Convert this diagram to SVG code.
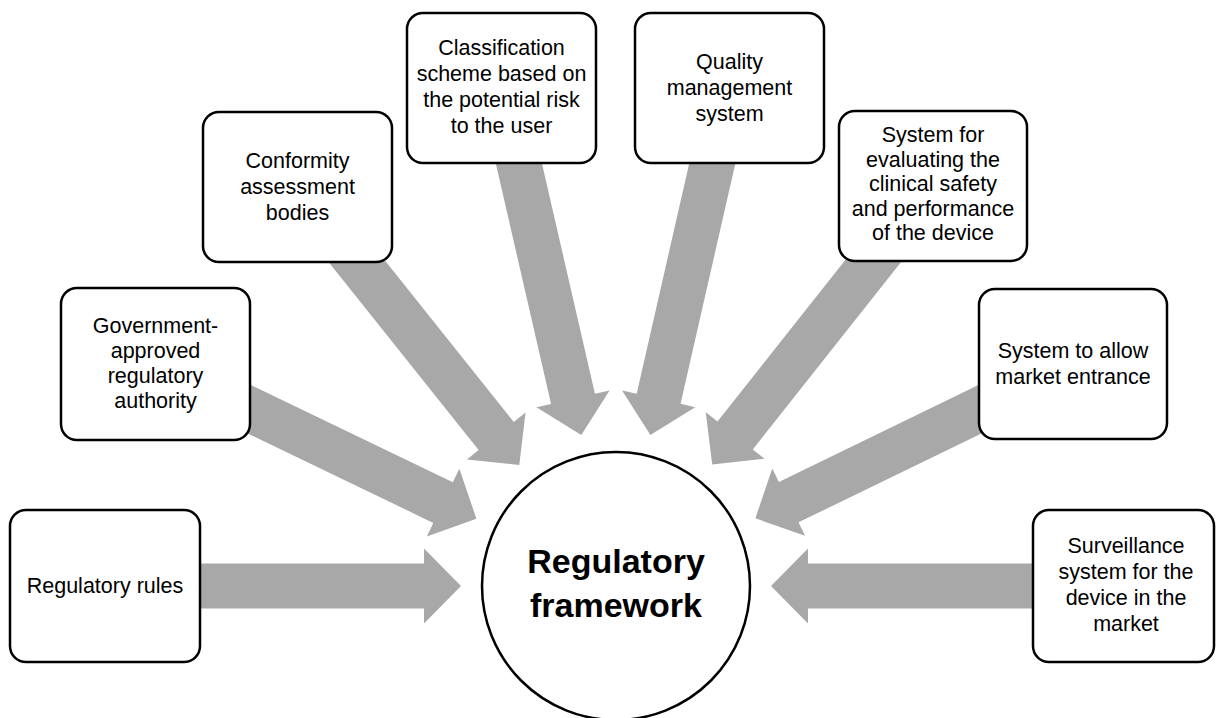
<svg xmlns="http://www.w3.org/2000/svg" xmlns:xlink="http://www.w3.org/1999/xlink" width="1216" height="718" viewBox="0 0 1216 718">
<style>
.box{fill:#fff;stroke:#000;stroke-width:2.5}
.lbl{font-family:"Liberation Sans",Arial,sans-serif;font-size:21.5px;fill:#000;text-anchor:middle}
.hub{font-family:"Liberation Sans",Arial,sans-serif;font-size:34px;font-weight:bold;fill:#000;text-anchor:middle}
.arr{fill:#A8A8A8}
</style>
<defs>
<path id="arrow" class="arr" d="M-400,-22.5 L-37,-22.5 L-37,-37.5 L0,0 L-37,37.5 L-37,22.5 L-400,22.5 Z"/>
</defs>
<rect width="1216" height="718" fill="#fff"/>
<g id="connectors">
<use xlink:href="#arrow" href="#arrow" transform="translate(461,586) rotate(0)"/>
<use xlink:href="#arrow" href="#arrow" transform="translate(476.4,518.7) rotate(25.74)"/>
<use xlink:href="#arrow" href="#arrow" transform="translate(519.3,464.9) rotate(51.4)"/>
<use xlink:href="#arrow" href="#arrow" transform="translate(581.3,434.9) rotate(77.05)"/>
<use xlink:href="#arrow" href="#arrow" transform="translate(650.4,434.9) rotate(102.84)"/>
<use xlink:href="#arrow" href="#arrow" transform="translate(712.2,464.5) rotate(128.35)"/>
<use xlink:href="#arrow" href="#arrow" transform="translate(755.4,518.3) rotate(154.09)"/>
<use xlink:href="#arrow" href="#arrow" transform="translate(771,586) rotate(180)"/>
</g>
<g id="hub">
<circle cx="616" cy="586" r="134" fill="#fff" stroke="#000" stroke-width="2.5"/>
<text class="hub" x="616" y="573">Regulatory</text>
<text class="hub" x="616" y="617">framework</text>
</g>
<g id="n1">
<rect class="box" x="10" y="510" width="190" height="152" rx="16"/>
<text class="lbl" x="105" y="593">Regulatory rules</text>
</g>
<g id="n2">
<rect class="box" x="61" y="288" width="189" height="152" rx="16"/>
<text class="lbl" x="155.5" y="333">Government-</text>
<text class="lbl" x="155.5" y="358">approved</text>
<text class="lbl" x="155.5" y="383">regulatory</text>
<text class="lbl" x="155.5" y="408">authority</text>
</g>
<g id="n3">
<rect class="box" x="203" y="112" width="189" height="150" rx="16"/>
<text class="lbl" x="297.5" y="168">Conformity</text>
<text class="lbl" x="297.5" y="194">assessment</text>
<text class="lbl" x="297.5" y="220">bodies</text>
</g>
<g id="n4">
<rect class="box" x="407" y="13" width="189" height="150" rx="16"/>
<text class="lbl" x="501.5" y="55">Classification</text>
<text class="lbl" x="501.5" y="81">scheme based on</text>
<text class="lbl" x="501.5" y="107">the potential risk</text>
<text class="lbl" x="501.5" y="133">to the user</text>
</g>
<g id="n5">
<rect class="box" x="635" y="13" width="189" height="150" rx="16"/>
<text class="lbl" x="729.5" y="69">Quality</text>
<text class="lbl" x="729.5" y="95">management</text>
<text class="lbl" x="729.5" y="121">system</text>
</g>
<g id="n6">
<rect class="box" x="839" y="111" width="188" height="150" rx="16"/>
<text class="lbl" x="933" y="142">System for</text>
<text class="lbl" x="933" y="166.5">evaluating the</text>
<text class="lbl" x="933" y="191">clinical safety</text>
<text class="lbl" x="933" y="215.5">and performance</text>
<text class="lbl" x="933" y="240">of the device</text>
</g>
<g id="n7">
<rect class="box" x="979" y="289" width="188" height="150" rx="16"/>
<text class="lbl" x="1073" y="358">System to allow</text>
<text class="lbl" x="1073" y="384">market entrance</text>
</g>
<g id="n8">
<rect class="box" x="1033" y="510" width="181" height="152" rx="16"/>
<text class="lbl" x="1126" y="553">Surveillance</text>
<text class="lbl" x="1126" y="579">system for the</text>
<text class="lbl" x="1126" y="605">device in the</text>
<text class="lbl" x="1126" y="631">market</text>
</g>
</svg>
